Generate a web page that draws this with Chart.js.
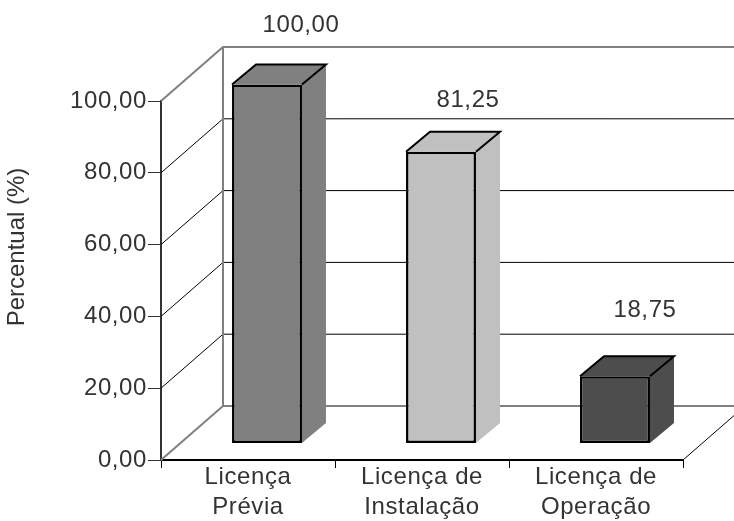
<!DOCTYPE html>
<html>
<head>
<meta charset="utf-8">
<style>
  html, body { margin: 0; padding: 0; background: #fff; }
  #wrap { position: relative; width: 734px; height: 521px; }
</style>
<script src="https://cdn.jsdelivr.net/npm/chart.js@4"></script>
</head>
<body>
<div id="wrap"><canvas id="licChart" width="734" height="521"></canvas></div>
<script>
const categories = [['Licença', 'Prévia'], ['Licença de', 'Instalação'], ['Licença de', 'Operação']];
const percentual = [100, 81.25, 18.75];
const barColors = ['#808080', '#c0c0c0', '#4d4d4d'];
const yTicks = [0, 20, 40, 60, 80, 100];
const yTitle = 'Percentual (%)';

const fmt = v => v.toFixed(2).replace('.', ',');
const textColor = '#333333';
const fontFamily = '"Liberation Sans", Arial, sans-serif';
const fontSize = 24;

// depth of the 3D box, and of the bars standing inside it
const wallDx = 62, wallDy = 54;
const barShiftX = 19, barShiftY = -16.5;
const barDepthX = 24, barDepthY = 20;
// the value labels sit at hand-placed spots in the original
const labelOffsets = [[34, -59], [27, -51], [30, -66]];

const box3d = {
    id: 'box3d',
    beforeDraw(chart) {
        chart.ctx.letterSpacing = '0.6px';
    },
    beforeDatasetsDraw(chart) {
        const { ctx, chartArea: area, scales: { x, y } } = chart;
        const wallY = v => y.getPixelForValue(v) - wallDy;
        const line = (color, width, pts) => {
            ctx.strokeStyle = color;
            ctx.lineWidth = width;
            ctx.beginPath();
            pts.forEach((p, i) => i ? ctx.lineTo(p[0], p[1]) : ctx.moveTo(p[0], p[1]));
            ctx.stroke();
        };
        ctx.save();
        const backX = area.left + wallDx;
        yTicks.forEach(v => {
            const edge = v === 0 || v === 100;
            line(edge ? '#808080' : '#000', edge ? 2 : 1, [
                [area.left, y.getPixelForValue(v)],
                [backX, wallY(v)],
                [area.right + wallDx, wallY(v)]
            ]);
        });
        line('#808080', 2, [[backX, wallY(0)], [backX, wallY(100)]]);
        line('#000', 1, [[area.right, y.getPixelForValue(0)], [area.right + wallDx, wallY(0)]]);

        // side and top faces of the bars, taken from the bar elements
        chart.getDatasetMeta(0).data.forEach((bar, i) => {
            const p = bar.getProps(['x', 'y', 'base', 'width'], true);
            const l = p.x - p.width / 2 + barShiftX, r = p.x + p.width / 2 + barShiftX;
            const t = p.y + barShiftY, b = p.base + barShiftY;
            ctx.fillStyle = barColors[i];
            ctx.beginPath();
            ctx.moveTo(r, t);
            ctx.lineTo(r + barDepthX, t - barDepthY);
            ctx.lineTo(r + barDepthX, b - barDepthY);
            ctx.lineTo(r, b);
            ctx.closePath();
            ctx.fill();
            ctx.beginPath();
            ctx.moveTo(l, t);
            ctx.lineTo(l + barDepthX, t - barDepthY);
            ctx.lineTo(r + barDepthX, t - barDepthY);
            ctx.lineTo(r, t);
            ctx.closePath();
            ctx.fill();
            line('#000', 2, [
                [l, t], [l + barDepthX, t - barDepthY],
                [r + barDepthX, t - barDepthY], [r, t]
            ]);
        });
        ctx.restore();
    },
    beforeDatasetDraw(chart) {
        chart.ctx.save();
        chart.ctx.translate(barShiftX, barShiftY);
    },
    afterDatasetDraw(chart) {
        chart.ctx.restore();
    },
    afterDatasetsDraw(chart) {
        const { ctx } = chart;
        ctx.save();
        ctx.fillStyle = textColor;
        ctx.font = fontSize + 'px ' + fontFamily;
        ctx.textAlign = 'center';
        ctx.textBaseline = 'middle';
        chart.getDatasetMeta(0).data.forEach((bar, i) => {
            const p = bar.getProps(['x', 'y'], true);
            ctx.fillText(fmt(percentual[i]),
                p.x + barShiftX + labelOffsets[i][0],
                p.y + barShiftY + labelOffsets[i][1]);
        });
        // axis title sits above the middle of the axis in the original
        ctx.letterSpacing = '0px';
        ctx.translate(17, 247);
        ctx.rotate(-Math.PI / 2);
        ctx.fillText(yTitle, 0, 0);
        ctx.restore();
    }
};

new Chart(document.getElementById('licChart'), {
    type: 'bar',
    data: {
        labels: categories,
        datasets: [{
            data: percentual,
            backgroundColor: barColors,
            borderColor: '#000',
            borderWidth: 2.5,
            borderSkipped: false,
            barPercentage: 1,
            categoryPercentage: 0.402,
            clip: false
        }]
    },
    plugins: [box3d],
    options: {
        responsive: false,
        animation: false,
        layout: { padding: { left: 5, top: 101, right: 51, bottom: 0 } },
        plugins: { legend: { display: false }, tooltip: { enabled: false } },
        scales: {
            x: {
                afterFit: s => { s.height = 61; },
                border: { color: '#000', width: 2 },
                grid: { drawOnChartArea: false, offset: true, color: '#000', tickLength: 8 },
                ticks: {
                    color: textColor,
                    maxRotation: 0,
                    padding: -5,
                    font: { size: fontSize, family: fontFamily, lineHeight: 1.23 }
                }
            },
            y: {
                min: 0,
                max: 100,
                afterFit: s => { s.width = 161 - 5; },
                afterBuildTicks: s => { s.ticks = yTicks.map(value => ({ value })); },
                border: { color: '#333', width: 2 },
                grid: { drawOnChartArea: false, color: '#333', tickLength: 13 },
                ticks: {
                    color: textColor,
                    padding: 1,
                    callback: v => fmt(v),
                    font: { size: fontSize, family: fontFamily }
                }
            }
        }
    }
});
</script>
</body>
</html>
